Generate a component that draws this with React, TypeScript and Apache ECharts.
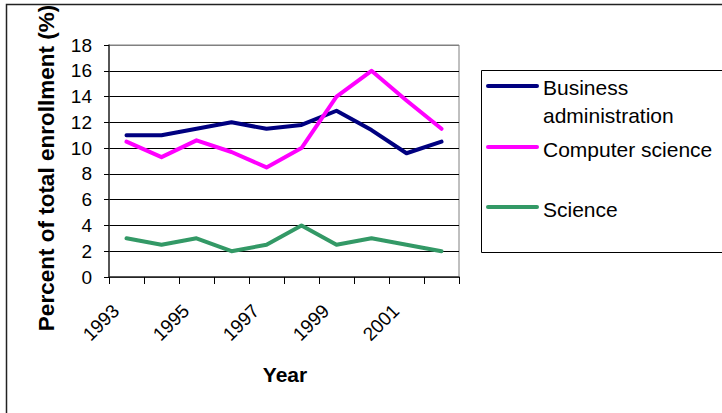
import React, { useEffect, useRef } from "react";
import * as echarts from "echarts";

// Enrollment shares by field of study, 1993–2002
const years = ["1993", "1994", "1995", "1996", "1997", "1998", "1999", "2000", "2001", "2002"];
const businessAdmin = [11, 11, 11.5, 12, 11.5, 11.8, 12.9, 11.4, 9.6, 10.5];
const computerScience = [10.5, 9.3, 10.6, 9.7, 8.5, 10, 14, 16, 13.7, 11.5];
const science = [3, 2.5, 3, 2, 2.5, 4, 2.5, 3, 2.5, 2];
const seriesNames = ["Business administration", "Computer science", "Science"];
const seriesColors = ["#000080", "#FF00FF", "#339966"];
const yMin = 0;
const yMax = 18;
const yStep = 2;

const FONT = 'Arial, "Liberation Sans", sans-serif';

export default function App() {
  const ref = useRef<HTMLDivElement>(null);

  useEffect(() => {
    if (!ref.current) return;
    const chart = echarts.init(ref.current, null, { renderer: "svg" });

    const values = [businessAdmin, computerScience, science];

    // legend rows: line y and text lines (y = vertical middle of each text line)
    const legendRows = [
      { lineY: 86, texts: [{ t: "Business", y: 87.5 }, { t: "administration", y: 115 }] },
      { lineY: 147, texts: [{ t: "Computer science", y: 149.5 }] },
      { lineY: 207, texts: [{ t: "Science", y: 209.5 }] },
    ];
    const legendEls: any[] = [
      {
        type: "rect",
        shape: { x: 481.5, y: 70.5, width: 300, height: 182 },
        style: { fill: "#fff", stroke: "#000", lineWidth: 1 },
      },
    ];
    legendRows.forEach((row, i) => {
      legendEls.push({
        type: "line",
        shape: { x1: 488, y1: row.lineY, x2: 537, y2: row.lineY },
        style: { stroke: seriesColors[i], lineWidth: 4, lineCap: "round" },
      });
      row.texts.forEach((tx) => {
        legendEls.push({
          type: "text",
          x: 543,
          y: tx.y,
          style: {
            text: tx.t,
            fill: "#000",
            font: `21px ${FONT}`,
            align: "left",
            verticalAlign: "middle",
          },
        });
      });
    });

    const splitColors = Array.from({ length: (yMax - yMin) / yStep + 1 }, (_, i) =>
      i === (yMax - yMin) / yStep ? "#808080" : "#000"
    );

    chart.setOption({
      animation: false,
      backgroundColor: "#fff",
      grid: {
        left: 109,
        right: 263,
        top: 45,
        bottom: 136,
        show: true,
        backgroundColor: "#fff",
        borderColor: "#808080",
        borderWidth: 1,
      },
      xAxis: {
        type: "category",
        data: years,
        boundaryGap: true,
        axisLine: { show: true, lineStyle: { color: "#333", width: 1.5 } },
        axisTick: { show: true, interval: 0, length: 7, lineStyle: { color: "#000", width: 1 } },
        axisLabel: {
          interval: 1,
          rotate: 45,
          margin: 20,
          padding: [0, 15, 0, 0],
          color: "#000",
          fontSize: 19,
          fontFamily: FONT,
        },
        splitLine: { show: false },
      },
      yAxis: {
        type: "value",
        min: yMin,
        max: yMax,
        interval: yStep,
        axisLine: { show: true, lineStyle: { color: "#333", width: 1.5 } },
        axisTick: { show: true, length: 5, lineStyle: { color: "#000", width: 1 } },
        axisLabel: { margin: 17, color: "#000", fontSize: 19, fontFamily: FONT },
        splitLine: { show: true, lineStyle: { color: splitColors, width: 1 } },
      },
      series: seriesNames.map((name, i) => ({
        name,
        type: "line",
        data: values[i],
        showSymbol: false,
        symbol: "none",
        lineStyle: { color: seriesColors[i], width: 4, cap: "round", join: "round" },
        itemStyle: { color: seriesColors[i] },
        z: 3 + i,
      })),
      graphic: [
        {
          type: "rect",
          z: -10,
          silent: true,
          shape: { x: 6.5, y: 4.5, width: 800, height: 500 },
          style: { fill: "none", stroke: "#222", lineWidth: 1.5 },
        },
        {
          type: "text",
          x: 46,
          y: 168,
          rotation: Math.PI / 2,
          style: {
            text: "Percent of total enrollment (%)",
            fill: "#000",
            font: `bold 22.5px ${FONT}`,
            align: "center",
            verticalAlign: "middle",
          },
        },
        {
          type: "text",
          x: 285,
          y: 374,
          style: {
            text: "Year",
            fill: "#000",
            font: `bold 21px ${FONT}`,
            align: "center",
            verticalAlign: "middle",
          },
        },
        ...legendEls,
      ],
    });

    return () => chart.dispose();
  }, []);

  return (
    <div
      ref={ref}
      style={{ position: "absolute", left: 0, top: 0, width: 722, height: 413 }}
    />
  );
}
